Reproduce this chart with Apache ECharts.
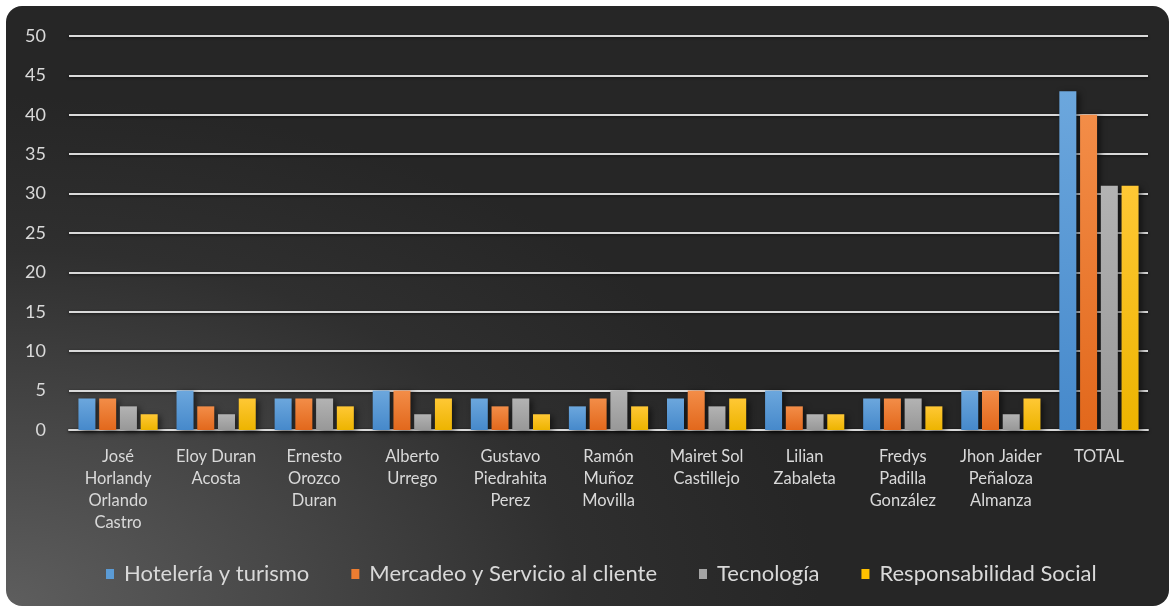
<!DOCTYPE html>
<html>
<head>
<meta charset="utf-8">
<script src="https://cdn.jsdelivr.net/npm/echarts@6/dist/echarts.min.js"></script>
<style>
  html, body { margin: 0; padding: 0; background: #ffffff; }
  #box {
    position: absolute; left: 6px; top: 6px; width: 1163px; height: 600px;
    border-radius: 16px; overflow: hidden;
    background: radial-gradient(ellipse 70% 85% at 0% 100%, #5e5e5e 0%, #474747 35%, #2f2f2f 70%, #262626 100%);
  }
  #chart { position: absolute; left: -6px; top: -6px; width: 1169px; height: 607px; }
</style>
</head>
<body>
<div id="box"><div id="chart"></div></div>
<script>
const categories = [
  'José\nHorlandy\nOrlando\nCastro',
  'Eloy Duran\nAcosta',
  'Ernesto\nOrozco\nDuran',
  'Alberto\nUrrego',
  'Gustavo\nPiedrahita\nPerez',
  'Ramón\nMuñoz\nMovilla',
  'Mairet Sol\nCastillejo',
  'Lilian\nZabaleta',
  'Fredys\nPadilla\nGonzález',
  'Jhon Jaider\nPeñaloza\nAlmanza',
  'TOTAL'
]
const hoteleria = [4, 5, 4, 5, 4, 3, 4, 5, 4, 5, 43]
const mercadeo = [4, 3, 4, 5, 3, 4, 5, 3, 4, 5, 40]
const tecnologia = [3, 2, 4, 2, 4, 5, 3, 2, 4, 2, 31]
const responsabilidad = [2, 4, 3, 4, 2, 3, 4, 2, 3, 4, 31]

const seriesDefs = [
  { name: 'Hotelería y turismo', data: hoteleria, top: '#6ca7dd', bottom: '#4689cb', flat: '#5b9bd5' },
  { name: 'Mercadeo y Servicio al cliente', data: mercadeo, top: '#f38d48', bottom: '#e2681c', flat: '#ed7d31' },
  { name: 'Tecnología', data: tecnologia, top: '#b3b3b3', bottom: '#989898', flat: '#a5a5a5' },
  { name: 'Responsabilidad Social', data: responsabilidad, top: '#ffc835', bottom: '#edb400', flat: '#ffc000' }
]

const font = 'Lato, "Open Sans", sans-serif'
const text = '#d9d9d9'

const chart = echarts.init(document.getElementById('chart'))
chart.setOption({
  backgroundColor: 'transparent',
  animation: false,
  grid: { left: 69, right: 21, top: 36, bottom: 177 },
  legend: {
    top: 558,
    left: 101,
    itemWidth: 8,
    itemHeight: 10,
    itemGap: 42,
    icon: 'rect',
    textStyle: { color: text, fontSize: 22, fontFamily: font, padding: [0, 0, 0, 5] },
    data: seriesDefs.map(s => ({ name: s.name, itemStyle: { color: s.flat } }))
  },
  xAxis: {
    type: 'category',
    data: categories,
    axisLine: { lineStyle: { color: '#d9d9d9', width: 2, shadowColor: 'rgba(0,0,0,0.6)', shadowBlur: 3, shadowOffsetY: 1 } },
    axisTick: { show: false },
    axisLabel: { color: text, fontSize: 16.5, fontFamily: font, lineHeight: 22, margin: 16, interval: 0 }
  },
  yAxis: {
    type: 'value',
    min: 0,
    max: 50,
    interval: 5,
    axisLine: { show: false },
    axisTick: { show: false },
    axisLabel: { color: text, fontSize: 18, fontFamily: font, margin: 23 },
    splitLine: { lineStyle: { color: '#d9d9d9', width: 2, shadowColor: 'rgba(0,0,0,0.6)', shadowBlur: 3, shadowOffsetY: 1 } }
  },
  series: seriesDefs.map(s => ({
    name: s.name,
    type: 'bar',
    data: s.data,
    barWidth: 17,
    barGap: '22%',
    itemStyle: {
      color: new echarts.graphic.LinearGradient(0, 0, 0, 1, [
        { offset: 0, color: s.top },
        { offset: 1, color: s.bottom }
      ]),
      shadowColor: 'rgba(0,0,0,0.55)',
      shadowBlur: 6,
      shadowOffsetX: 3,
      shadowOffsetY: 2
    }
  }))
})
</script>
</body>
</html>
